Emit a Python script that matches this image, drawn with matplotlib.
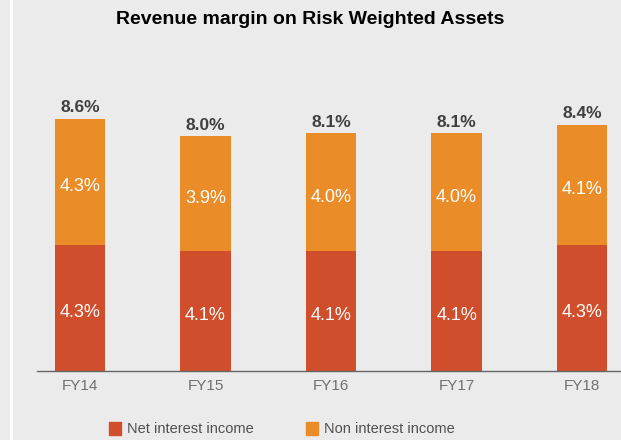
import matplotlib
matplotlib.use("Agg")
import matplotlib.pyplot as plt
import numpy as np
from matplotlib.patches import Rectangle

plt.rcParams['font.family'] = ['Liberation Sans', 'DejaVu Sans']

categories = ["FY14", "FY15", "FY16", "FY17", "FY18"]
net_interest = [4.3, 4.1, 4.1, 4.1, 4.3]
non_interest = [4.3, 3.9, 4.0, 4.0, 4.1]
totals = [8.6, 8.0, 8.1, 8.1, 8.4]

c_net = "#D04E2B"
c_non = "#EA8C28"
bg = "#EBEBEB"

W, H = 621, 440
fig = plt.figure(figsize=(W / 100, H / 100), dpi=100, facecolor=bg)

# white vertical line at left
fig.add_artist(plt.Line2D([11 / W, 11 / W], [0, 1], color="white", lw=2))

ax_l, ax_r, ax_t, ax_b = 37, 621, 60, 371
ax = fig.add_axes([ax_l / W, 1 - ax_b / H, (ax_r - ax_l) / W, (ax_b - ax_t) / H])
ax.set_facecolor(bg)

x = np.arange(len(categories))
ax.bar(x, net_interest, width=0.40, color=c_net, zorder=2)
ax.bar(x, non_interest, width=0.40, bottom=net_interest, color=c_non, zorder=2)

off = 0.17
for i in range(len(categories)):
    ax.text(x[i], net_interest[i] / 2 - off, f"{net_interest[i]:.1f}%", ha="center", va="center",
            color="white", fontsize=13)
    ax.text(x[i], net_interest[i] + non_interest[i] / 2 - off, f"{non_interest[i]:.1f}%",
            ha="center", va="center", color="white", fontsize=13)
    ax.text(x[i], net_interest[i] + non_interest[i] + 0.12, f"{totals[i]:.1f}%", ha="center",
            va="bottom", color="#404040", fontsize=12.5, fontweight="bold")

ax.set_xlim(-0.343, 4.31)
ax.set_ylim(0, 10.6)
for s in ["top", "right", "left"]:
    ax.spines[s].set_visible(False)
ax.spines["bottom"].set_color("#666666")
ax.spines["bottom"].set_linewidth(1)
ax.set_yticks([])
ax.set_xticks(x)
ax.set_xticklabels(categories, color="#707070", fontsize=11)
ax.tick_params(axis="x", length=0, pad=6)

fig.text(0.5, 1 - 19 / H, "Revenue margin on Risk Weighted Assets", ha="center", va="center",
         fontsize=14, fontweight="bold", color="black")

# legend
legend_items = [("Net interest income", c_net, 109), ("Non interest income", c_non, 306)]
for label, col, px in legend_items:
    fig.add_artist(Rectangle((px / W, 1 - 435 / H), 12 / W, 13 / H, color=col,
                             transform=fig.transFigure))
    fig.text((px + 18) / W, 1 - 429 / H, label, ha="left", va="center", fontsize=10.5,
             color="#505050")

fig.savefig("out.png", dpi=100, facecolor=bg)
